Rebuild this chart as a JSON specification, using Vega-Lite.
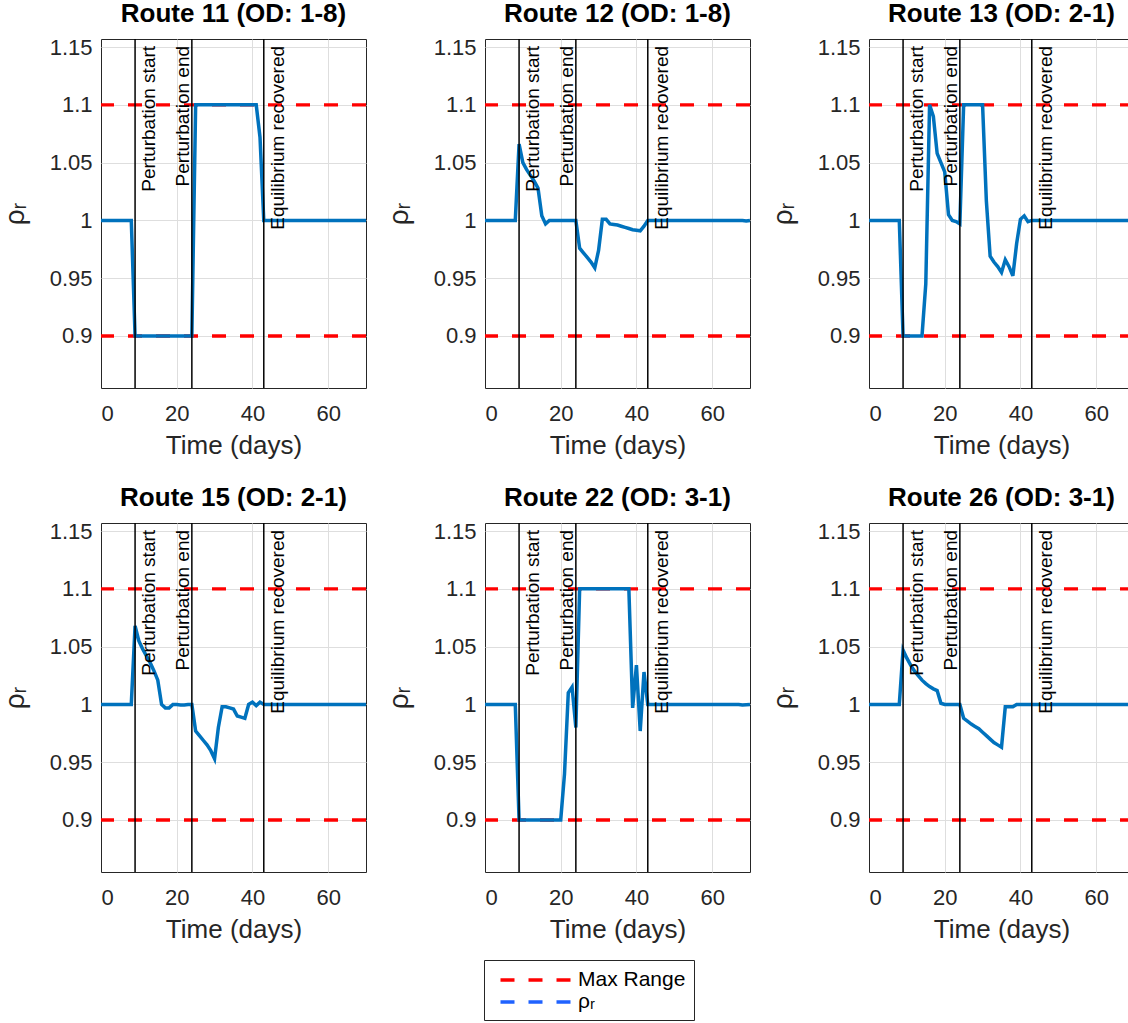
{
  "$schema": "https://vega.github.io/schema/vega-lite/v6.json",
  "padding": {"left": 0, "top": 0, "right": 0, "bottom": 0},
  "background": "white",
  "config": {
    "font": "Liberation Sans",
    "view": {"stroke": "#262626", "strokeWidth": 1},
    "axis": {
      "labelFont": "Liberation Sans",
      "labelFontSize": 22,
      "labelColor": "#262626",
      "titleFont": "Liberation Sans",
      "titleFontSize": 26,
      "titleColor": "#262626",
      "titleFontWeight": "normal",
      "gridColor": "#dedede",
      "gridWidth": 1,
      "domain": false,
      "ticks": false
    },
    "axisX": {"labelPadding": 15, "titlePadding": 8},
    "axisY": {"labelPadding": 9, "titlePadding": 20, "titleFontSize": 28},
    "title": {"fontSize": 26, "fontWeight": "bold", "color": "black", "offset": 9, "anchor": "middle", "font": "Liberation Sans"},
    "legend": {
      "orient": "none",
      "legendX": 383,
      "legendY": 921,
      "symbolType": "M-3.55,0H3.55",
      "symbolSize": 400,
      "symbolStrokeWidth": 3.3,
      "symbolDash": [14, 14],
      "symbolOffset": 32,
      "labelFontSize": 21,
      "labelFont": "Liberation Sans",
      "labelColor": "black",
      "strokeColor": "#262626",
      "fillColor": "white",
      "padding": 8,
      "rowPadding": 0,
      "labelOffset": 30,
      "direction": "vertical"
    }
  },
  "datasets": {
    "events": [
      {"day": 9, "label": "Perturbation start"},
      {"day": 24, "label": "Perturbation end"},
      {"day": 43, "label": "Equilibrium recovered"}
    ],
    "ranges": [
      {"v": 0.9, "s": "Max Range"},
      {"v": 1.1, "s": "Max Range"}
    ],
    "rho": [
      {"route": 11, "day": 0, "rho": 1.0}, {"route": 11, "day": 8, "rho": 1.0}, {"route": 11, "day": 9, "rho": 0.9},
      {"route": 11, "day": 24, "rho": 0.9}, {"route": 11, "day": 25, "rho": 1.1}, {"route": 11, "day": 41, "rho": 1.1},
      {"route": 11, "day": 42, "rho": 1.072}, {"route": 11, "day": 43, "rho": 1.0}, {"route": 11, "day": 70, "rho": 1.0},

      {"route": 12, "day": 0, "rho": 1.0}, {"route": 12, "day": 8, "rho": 1.0}, {"route": 12, "day": 9, "rho": 1.066},
      {"route": 12, "day": 10, "rho": 1.05}, {"route": 12, "day": 11, "rho": 1.044}, {"route": 12, "day": 12, "rho": 1.039},
      {"route": 12, "day": 13, "rho": 1.034}, {"route": 12, "day": 14, "rho": 1.028}, {"route": 12, "day": 15, "rho": 1.004},
      {"route": 12, "day": 16, "rho": 0.997}, {"route": 12, "day": 17, "rho": 1.0}, {"route": 12, "day": 24, "rho": 1.0},
      {"route": 12, "day": 25, "rho": 0.976}, {"route": 12, "day": 26, "rho": 0.972}, {"route": 12, "day": 27, "rho": 0.968},
      {"route": 12, "day": 28, "rho": 0.964}, {"route": 12, "day": 29, "rho": 0.959}, {"route": 12, "day": 30, "rho": 0.974},
      {"route": 12, "day": 31, "rho": 1.001}, {"route": 12, "day": 32, "rho": 1.001}, {"route": 12, "day": 33, "rho": 0.997},
      {"route": 12, "day": 34, "rho": 0.9965}, {"route": 12, "day": 35, "rho": 0.996}, {"route": 12, "day": 36, "rho": 0.995},
      {"route": 12, "day": 37, "rho": 0.994}, {"route": 12, "day": 38, "rho": 0.993}, {"route": 12, "day": 39, "rho": 0.992},
      {"route": 12, "day": 40, "rho": 0.9915}, {"route": 12, "day": 41, "rho": 0.991}, {"route": 12, "day": 42, "rho": 0.995},
      {"route": 12, "day": 43, "rho": 1.0}, {"route": 12, "day": 68, "rho": 1.0}, {"route": 12, "day": 69, "rho": 0.9995},
      {"route": 12, "day": 70, "rho": 1.0},

      {"route": 13, "day": 0, "rho": 1.0}, {"route": 13, "day": 8, "rho": 1.0}, {"route": 13, "day": 9, "rho": 0.9},
      {"route": 13, "day": 14, "rho": 0.9}, {"route": 13, "day": 15, "rho": 0.945}, {"route": 13, "day": 16, "rho": 1.1},
      {"route": 13, "day": 17, "rho": 1.09}, {"route": 13, "day": 18, "rho": 1.058}, {"route": 13, "day": 19, "rho": 1.05},
      {"route": 13, "day": 20, "rho": 1.042}, {"route": 13, "day": 21, "rho": 1.005}, {"route": 13, "day": 22, "rho": 1.0},
      {"route": 13, "day": 23, "rho": 0.999}, {"route": 13, "day": 24, "rho": 0.997}, {"route": 13, "day": 25, "rho": 1.1},
      {"route": 13, "day": 30, "rho": 1.1}, {"route": 13, "day": 31, "rho": 1.017}, {"route": 13, "day": 32, "rho": 0.969},
      {"route": 13, "day": 33, "rho": 0.964}, {"route": 13, "day": 34, "rho": 0.96}, {"route": 13, "day": 35, "rho": 0.955},
      {"route": 13, "day": 36, "rho": 0.966}, {"route": 13, "day": 37, "rho": 0.96}, {"route": 13, "day": 38, "rho": 0.952},
      {"route": 13, "day": 39, "rho": 0.98}, {"route": 13, "day": 40, "rho": 1.001}, {"route": 13, "day": 41, "rho": 1.004},
      {"route": 13, "day": 42, "rho": 0.999}, {"route": 13, "day": 43, "rho": 1.0}, {"route": 13, "day": 70, "rho": 1.0},

      {"route": 15, "day": 0, "rho": 1.0}, {"route": 15, "day": 8, "rho": 1.0}, {"route": 15, "day": 9, "rho": 1.068},
      {"route": 15, "day": 10, "rho": 1.055}, {"route": 15, "day": 11, "rho": 1.048}, {"route": 15, "day": 12, "rho": 1.042},
      {"route": 15, "day": 13, "rho": 1.036}, {"route": 15, "day": 14, "rho": 1.029}, {"route": 15, "day": 15, "rho": 1.021},
      {"route": 15, "day": 16, "rho": 1.0}, {"route": 15, "day": 17, "rho": 0.997}, {"route": 15, "day": 18, "rho": 0.997},
      {"route": 15, "day": 19, "rho": 1.0}, {"route": 15, "day": 20, "rho": 1.0}, {"route": 15, "day": 21, "rho": 0.9995},
      {"route": 15, "day": 22, "rho": 0.9995}, {"route": 15, "day": 23, "rho": 1.0}, {"route": 15, "day": 24, "rho": 1.0},
      {"route": 15, "day": 25, "rho": 0.977}, {"route": 15, "day": 26, "rho": 0.973}, {"route": 15, "day": 27, "rho": 0.969},
      {"route": 15, "day": 28, "rho": 0.965}, {"route": 15, "day": 29, "rho": 0.96}, {"route": 15, "day": 30, "rho": 0.953},
      {"route": 15, "day": 31, "rho": 0.98}, {"route": 15, "day": 32, "rho": 0.998}, {"route": 15, "day": 33, "rho": 0.998},
      {"route": 15, "day": 34, "rho": 0.997}, {"route": 15, "day": 35, "rho": 0.996}, {"route": 15, "day": 36, "rho": 0.99},
      {"route": 15, "day": 37, "rho": 0.989}, {"route": 15, "day": 38, "rho": 0.988}, {"route": 15, "day": 39, "rho": 1.0},
      {"route": 15, "day": 40, "rho": 1.002}, {"route": 15, "day": 41, "rho": 0.999}, {"route": 15, "day": 42, "rho": 1.002},
      {"route": 15, "day": 43, "rho": 1.0}, {"route": 15, "day": 70, "rho": 1.0},

      {"route": 22, "day": 0, "rho": 1.0}, {"route": 22, "day": 8, "rho": 1.0}, {"route": 22, "day": 9, "rho": 0.9},
      {"route": 22, "day": 20, "rho": 0.9}, {"route": 22, "day": 21, "rho": 0.94}, {"route": 22, "day": 22, "rho": 1.01},
      {"route": 22, "day": 23, "rho": 1.015}, {"route": 22, "day": 24, "rho": 0.98}, {"route": 22, "day": 25, "rho": 1.1},
      {"route": 22, "day": 38, "rho": 1.1}, {"route": 22, "day": 39, "rho": 0.997}, {"route": 22, "day": 40, "rho": 1.034},
      {"route": 22, "day": 41, "rho": 0.977}, {"route": 22, "day": 42, "rho": 1.028}, {"route": 22, "day": 43, "rho": 1.0},
      {"route": 22, "day": 67, "rho": 1.0}, {"route": 22, "day": 68, "rho": 0.9995}, {"route": 22, "day": 70, "rho": 1.0},

      {"route": 26, "day": 0, "rho": 1.0}, {"route": 26, "day": 8, "rho": 1.0}, {"route": 26, "day": 9, "rho": 1.047},
      {"route": 26, "day": 10, "rho": 1.04}, {"route": 26, "day": 11, "rho": 1.034}, {"route": 26, "day": 12, "rho": 1.029},
      {"route": 26, "day": 13, "rho": 1.025}, {"route": 26, "day": 14, "rho": 1.021}, {"route": 26, "day": 15, "rho": 1.018},
      {"route": 26, "day": 16, "rho": 1.0155}, {"route": 26, "day": 17, "rho": 1.0135}, {"route": 26, "day": 18, "rho": 1.012},
      {"route": 26, "day": 19, "rho": 1.001}, {"route": 26, "day": 20, "rho": 1.0}, {"route": 26, "day": 24, "rho": 1.0},
      {"route": 26, "day": 25, "rho": 0.988}, {"route": 26, "day": 26, "rho": 0.9855}, {"route": 26, "day": 27, "rho": 0.983},
      {"route": 26, "day": 28, "rho": 0.981}, {"route": 26, "day": 29, "rho": 0.979}, {"route": 26, "day": 30, "rho": 0.976},
      {"route": 26, "day": 31, "rho": 0.973}, {"route": 26, "day": 32, "rho": 0.97}, {"route": 26, "day": 33, "rho": 0.967},
      {"route": 26, "day": 34, "rho": 0.965}, {"route": 26, "day": 35, "rho": 0.963}, {"route": 26, "day": 36, "rho": 0.998},
      {"route": 26, "day": 37, "rho": 0.998}, {"route": 26, "day": 38, "rho": 0.998}, {"route": 26, "day": 39, "rho": 1.0},
      {"route": 26, "day": 70, "rho": 1.0}
    ]
  },
  "columns": 3,
  "spacing": {"row": 135, "column": 119},
  "bounds": "flush",
  "concat": [
    {
      "width": 265, "height": 349,
      "title": "Route 11 (OD: 1-8)",
      "layer": [
        {"data": {"name": "ranges"}, "mark": {"type": "rule", "strokeDash": [14, 14], "strokeWidth": 3.3},
         "encoding": {
           "y": {"field": "v", "type": "quantitative", "scale": {"domain": [0.855, 1.157], "nice": false, "zero": false},
                 "axis": {"title": "ρᵣ", "values": [0.9, 0.95, 1, 1.05, 1.1, 1.15], "format": "~g", "grid": true}},
           "color": {"field": "s", "type": "nominal", "scale": {"domain": ["Max Range", "ρᵣ"], "range": ["#ff0000", "#1f62ff"]}, "legend": {"title": null, "values": ["Max Range", "ρᵣ"]}}}},
        {"data": {"name": "rho"}, "transform": [{"filter": "datum.route == 11"}],
         "mark": {"type": "line", "color": "#0072bd", "strokeWidth": 3.5},
         "encoding": {
           "x": {"field": "day", "type": "quantitative", "scale": {"domain": [0, 70], "nice": false},
                 "axis": {"title": "Time (days)", "values": [0, 20, 40, 60], "grid": true, "gridOpacity": {"condition": {"test": "datum.value === 0", "value": 0}, "value": 1}}},
           "y": {"field": "rho", "type": "quantitative", "scale": {"domain": [0.855, 1.157], "nice": false, "zero": false}}}},
        {"data": {"name": "events"}, "mark": {"type": "rule", "color": "black", "strokeWidth": 1.5},
         "encoding": {"x": {"field": "day", "type": "quantitative", "scale": {"domain": [0, 70], "nice": false}}}},
        {"data": {"name": "events"}, "transform": [{"filter": "datum.day != 24"}],
         "mark": {"type": "text", "angle": 270, "align": "right", "baseline": "alphabetic", "dy": 20, "fontSize": 19, "color": "black"},
         "encoding": {"x": {"field": "day", "type": "quantitative", "scale": {"domain": [0, 70], "nice": false}}, "y": {"datum": 1.151, "scale": {"domain": [0.855, 1.157], "nice": false, "zero": false}}, "text": {"field": "label"}}},
        {"data": {"name": "events"}, "transform": [{"filter": "datum.day == 24"}],
         "mark": {"type": "text", "angle": 270, "align": "right", "baseline": "alphabetic", "dy": -3, "fontSize": 19, "color": "black"},
         "encoding": {"x": {"field": "day", "type": "quantitative", "scale": {"domain": [0, 70], "nice": false}}, "y": {"datum": 1.151, "scale": {"domain": [0.855, 1.157], "nice": false, "zero": false}}, "text": {"field": "label"}}}
      ]
    },
    {
      "width": 265, "height": 349,
      "title": "Route 12 (OD: 1-8)",
      "layer": [
        {"data": {"name": "ranges"}, "mark": {"type": "rule", "strokeDash": [14, 14], "strokeWidth": 3.3},
         "encoding": {
           "y": {"field": "v", "type": "quantitative", "scale": {"domain": [0.855, 1.157], "nice": false, "zero": false},
                 "axis": {"title": "ρᵣ", "values": [0.9, 0.95, 1, 1.05, 1.1, 1.15], "format": "~g", "grid": true}},
           "color": {"field": "s", "type": "nominal", "scale": {"domain": ["Max Range", "ρᵣ"], "range": ["#ff0000", "#1f62ff"]}, "legend": {"title": null, "values": ["Max Range", "ρᵣ"]}}}},
        {"data": {"name": "rho"}, "transform": [{"filter": "datum.route == 12"}],
         "mark": {"type": "line", "color": "#0072bd", "strokeWidth": 3.5},
         "encoding": {
           "x": {"field": "day", "type": "quantitative", "scale": {"domain": [0, 70], "nice": false},
                 "axis": {"title": "Time (days)", "values": [0, 20, 40, 60], "grid": true, "gridOpacity": {"condition": {"test": "datum.value === 0", "value": 0}, "value": 1}}},
           "y": {"field": "rho", "type": "quantitative", "scale": {"domain": [0.855, 1.157], "nice": false, "zero": false}}}},
        {"data": {"name": "events"}, "mark": {"type": "rule", "color": "black", "strokeWidth": 1.5},
         "encoding": {"x": {"field": "day", "type": "quantitative", "scale": {"domain": [0, 70], "nice": false}}}},
        {"data": {"name": "events"}, "transform": [{"filter": "datum.day != 24"}],
         "mark": {"type": "text", "angle": 270, "align": "right", "baseline": "alphabetic", "dy": 20, "fontSize": 19, "color": "black"},
         "encoding": {"x": {"field": "day", "type": "quantitative", "scale": {"domain": [0, 70], "nice": false}}, "y": {"datum": 1.151, "scale": {"domain": [0.855, 1.157], "nice": false, "zero": false}}, "text": {"field": "label"}}},
        {"data": {"name": "events"}, "transform": [{"filter": "datum.day == 24"}],
         "mark": {"type": "text", "angle": 270, "align": "right", "baseline": "alphabetic", "dy": -3, "fontSize": 19, "color": "black"},
         "encoding": {"x": {"field": "day", "type": "quantitative", "scale": {"domain": [0, 70], "nice": false}}, "y": {"datum": 1.151, "scale": {"domain": [0.855, 1.157], "nice": false, "zero": false}}, "text": {"field": "label"}}}
      ]
    },
    {
      "width": 265, "height": 349,
      "title": "Route 13 (OD: 2-1)",
      "layer": [
        {"data": {"name": "ranges"}, "mark": {"type": "rule", "strokeDash": [14, 14], "strokeWidth": 3.3},
         "encoding": {
           "y": {"field": "v", "type": "quantitative", "scale": {"domain": [0.855, 1.157], "nice": false, "zero": false},
                 "axis": {"title": "ρᵣ", "values": [0.9, 0.95, 1, 1.05, 1.1, 1.15], "format": "~g", "grid": true}},
           "color": {"field": "s", "type": "nominal", "scale": {"domain": ["Max Range", "ρᵣ"], "range": ["#ff0000", "#1f62ff"]}, "legend": {"title": null, "values": ["Max Range", "ρᵣ"]}}}},
        {"data": {"name": "rho"}, "transform": [{"filter": "datum.route == 13"}],
         "mark": {"type": "line", "color": "#0072bd", "strokeWidth": 3.5},
         "encoding": {
           "x": {"field": "day", "type": "quantitative", "scale": {"domain": [0, 70], "nice": false},
                 "axis": {"title": "Time (days)", "values": [0, 20, 40, 60], "grid": true, "gridOpacity": {"condition": {"test": "datum.value === 0", "value": 0}, "value": 1}}},
           "y": {"field": "rho", "type": "quantitative", "scale": {"domain": [0.855, 1.157], "nice": false, "zero": false}}}},
        {"data": {"name": "events"}, "mark": {"type": "rule", "color": "black", "strokeWidth": 1.5},
         "encoding": {"x": {"field": "day", "type": "quantitative", "scale": {"domain": [0, 70], "nice": false}}}},
        {"data": {"name": "events"}, "transform": [{"filter": "datum.day != 24"}],
         "mark": {"type": "text", "angle": 270, "align": "right", "baseline": "alphabetic", "dy": 20, "fontSize": 19, "color": "black"},
         "encoding": {"x": {"field": "day", "type": "quantitative", "scale": {"domain": [0, 70], "nice": false}}, "y": {"datum": 1.151, "scale": {"domain": [0.855, 1.157], "nice": false, "zero": false}}, "text": {"field": "label"}}},
        {"data": {"name": "events"}, "transform": [{"filter": "datum.day == 24"}],
         "mark": {"type": "text", "angle": 270, "align": "right", "baseline": "alphabetic", "dy": -3, "fontSize": 19, "color": "black"},
         "encoding": {"x": {"field": "day", "type": "quantitative", "scale": {"domain": [0, 70], "nice": false}}, "y": {"datum": 1.151, "scale": {"domain": [0.855, 1.157], "nice": false, "zero": false}}, "text": {"field": "label"}}}
      ]
    },
    {
      "width": 265, "height": 349,
      "title": "Route 15 (OD: 2-1)",
      "layer": [
        {"data": {"name": "ranges"}, "mark": {"type": "rule", "strokeDash": [14, 14], "strokeWidth": 3.3},
         "encoding": {
           "y": {"field": "v", "type": "quantitative", "scale": {"domain": [0.855, 1.157], "nice": false, "zero": false},
                 "axis": {"title": "ρᵣ", "values": [0.9, 0.95, 1, 1.05, 1.1, 1.15], "format": "~g", "grid": true}},
           "color": {"field": "s", "type": "nominal", "scale": {"domain": ["Max Range", "ρᵣ"], "range": ["#ff0000", "#1f62ff"]}, "legend": {"title": null, "values": ["Max Range", "ρᵣ"]}}}},
        {"data": {"name": "rho"}, "transform": [{"filter": "datum.route == 15"}],
         "mark": {"type": "line", "color": "#0072bd", "strokeWidth": 3.5},
         "encoding": {
           "x": {"field": "day", "type": "quantitative", "scale": {"domain": [0, 70], "nice": false},
                 "axis": {"title": "Time (days)", "values": [0, 20, 40, 60], "grid": true, "gridOpacity": {"condition": {"test": "datum.value === 0", "value": 0}, "value": 1}}},
           "y": {"field": "rho", "type": "quantitative", "scale": {"domain": [0.855, 1.157], "nice": false, "zero": false}}}},
        {"data": {"name": "events"}, "mark": {"type": "rule", "color": "black", "strokeWidth": 1.5},
         "encoding": {"x": {"field": "day", "type": "quantitative", "scale": {"domain": [0, 70], "nice": false}}}},
        {"data": {"name": "events"}, "transform": [{"filter": "datum.day != 24"}],
         "mark": {"type": "text", "angle": 270, "align": "right", "baseline": "alphabetic", "dy": 20, "fontSize": 19, "color": "black"},
         "encoding": {"x": {"field": "day", "type": "quantitative", "scale": {"domain": [0, 70], "nice": false}}, "y": {"datum": 1.151, "scale": {"domain": [0.855, 1.157], "nice": false, "zero": false}}, "text": {"field": "label"}}},
        {"data": {"name": "events"}, "transform": [{"filter": "datum.day == 24"}],
         "mark": {"type": "text", "angle": 270, "align": "right", "baseline": "alphabetic", "dy": -3, "fontSize": 19, "color": "black"},
         "encoding": {"x": {"field": "day", "type": "quantitative", "scale": {"domain": [0, 70], "nice": false}}, "y": {"datum": 1.151, "scale": {"domain": [0.855, 1.157], "nice": false, "zero": false}}, "text": {"field": "label"}}}
      ]
    },
    {
      "width": 265, "height": 349,
      "title": "Route 22 (OD: 3-1)",
      "layer": [
        {"data": {"name": "ranges"}, "mark": {"type": "rule", "strokeDash": [14, 14], "strokeWidth": 3.3},
         "encoding": {
           "y": {"field": "v", "type": "quantitative", "scale": {"domain": [0.855, 1.157], "nice": false, "zero": false},
                 "axis": {"title": "ρᵣ", "values": [0.9, 0.95, 1, 1.05, 1.1, 1.15], "format": "~g", "grid": true}},
           "color": {"field": "s", "type": "nominal", "scale": {"domain": ["Max Range", "ρᵣ"], "range": ["#ff0000", "#1f62ff"]}, "legend": {"title": null, "values": ["Max Range", "ρᵣ"]}}}},
        {"data": {"name": "rho"}, "transform": [{"filter": "datum.route == 22"}],
         "mark": {"type": "line", "color": "#0072bd", "strokeWidth": 3.5},
         "encoding": {
           "x": {"field": "day", "type": "quantitative", "scale": {"domain": [0, 70], "nice": false},
                 "axis": {"title": "Time (days)", "values": [0, 20, 40, 60], "grid": true, "gridOpacity": {"condition": {"test": "datum.value === 0", "value": 0}, "value": 1}}},
           "y": {"field": "rho", "type": "quantitative", "scale": {"domain": [0.855, 1.157], "nice": false, "zero": false}}}},
        {"data": {"name": "events"}, "mark": {"type": "rule", "color": "black", "strokeWidth": 1.5},
         "encoding": {"x": {"field": "day", "type": "quantitative", "scale": {"domain": [0, 70], "nice": false}}}},
        {"data": {"name": "events"}, "transform": [{"filter": "datum.day != 24"}],
         "mark": {"type": "text", "angle": 270, "align": "right", "baseline": "alphabetic", "dy": 20, "fontSize": 19, "color": "black"},
         "encoding": {"x": {"field": "day", "type": "quantitative", "scale": {"domain": [0, 70], "nice": false}}, "y": {"datum": 1.151, "scale": {"domain": [0.855, 1.157], "nice": false, "zero": false}}, "text": {"field": "label"}}},
        {"data": {"name": "events"}, "transform": [{"filter": "datum.day == 24"}],
         "mark": {"type": "text", "angle": 270, "align": "right", "baseline": "alphabetic", "dy": -3, "fontSize": 19, "color": "black"},
         "encoding": {"x": {"field": "day", "type": "quantitative", "scale": {"domain": [0, 70], "nice": false}}, "y": {"datum": 1.151, "scale": {"domain": [0.855, 1.157], "nice": false, "zero": false}}, "text": {"field": "label"}}}
      ]
    },
    {
      "width": 265, "height": 349,
      "title": "Route 26 (OD: 3-1)",
      "layer": [
        {"data": {"name": "ranges"}, "mark": {"type": "rule", "strokeDash": [14, 14], "strokeWidth": 3.3},
         "encoding": {
           "y": {"field": "v", "type": "quantitative", "scale": {"domain": [0.855, 1.157], "nice": false, "zero": false},
                 "axis": {"title": "ρᵣ", "values": [0.9, 0.95, 1, 1.05, 1.1, 1.15], "format": "~g", "grid": true}},
           "color": {"field": "s", "type": "nominal", "scale": {"domain": ["Max Range", "ρᵣ"], "range": ["#ff0000", "#1f62ff"]}, "legend": {"title": null, "values": ["Max Range", "ρᵣ"]}}}},
        {"data": {"name": "rho"}, "transform": [{"filter": "datum.route == 26"}],
         "mark": {"type": "line", "color": "#0072bd", "strokeWidth": 3.5},
         "encoding": {
           "x": {"field": "day", "type": "quantitative", "scale": {"domain": [0, 70], "nice": false},
                 "axis": {"title": "Time (days)", "values": [0, 20, 40, 60], "grid": true, "gridOpacity": {"condition": {"test": "datum.value === 0", "value": 0}, "value": 1}}},
           "y": {"field": "rho", "type": "quantitative", "scale": {"domain": [0.855, 1.157], "nice": false, "zero": false}}}},
        {"data": {"name": "events"}, "mark": {"type": "rule", "color": "black", "strokeWidth": 1.5},
         "encoding": {"x": {"field": "day", "type": "quantitative", "scale": {"domain": [0, 70], "nice": false}}}},
        {"data": {"name": "events"}, "transform": [{"filter": "datum.day != 24"}],
         "mark": {"type": "text", "angle": 270, "align": "right", "baseline": "alphabetic", "dy": 20, "fontSize": 19, "color": "black"},
         "encoding": {"x": {"field": "day", "type": "quantitative", "scale": {"domain": [0, 70], "nice": false}}, "y": {"datum": 1.151, "scale": {"domain": [0.855, 1.157], "nice": false, "zero": false}}, "text": {"field": "label"}}},
        {"data": {"name": "events"}, "transform": [{"filter": "datum.day == 24"}],
         "mark": {"type": "text", "angle": 270, "align": "right", "baseline": "alphabetic", "dy": -3, "fontSize": 19, "color": "black"},
         "encoding": {"x": {"field": "day", "type": "quantitative", "scale": {"domain": [0, 70], "nice": false}}, "y": {"datum": 1.151, "scale": {"domain": [0.855, 1.157], "nice": false, "zero": false}}, "text": {"field": "label"}}}
      ]
    }
  ]
}
